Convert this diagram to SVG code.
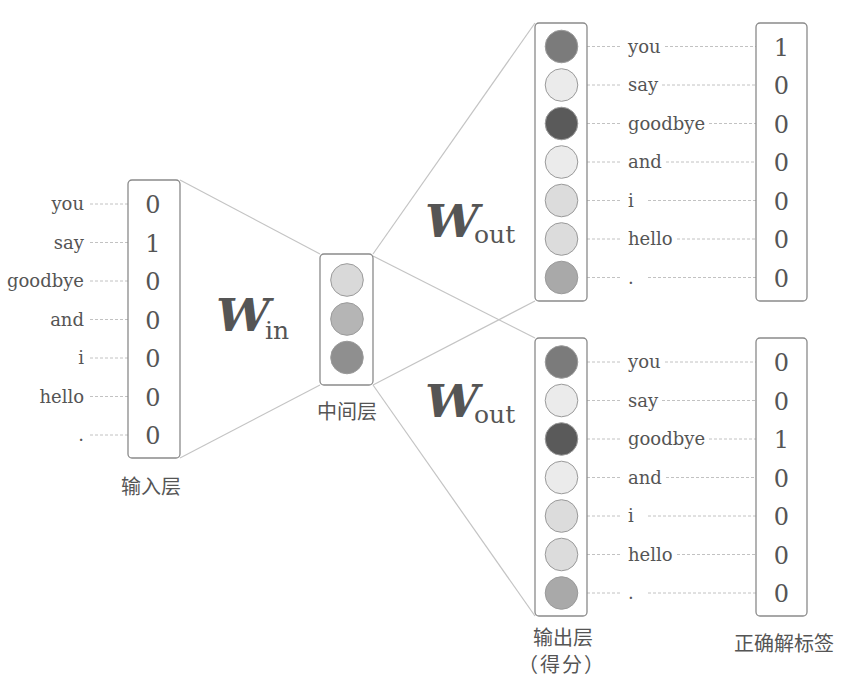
<svg xmlns="http://www.w3.org/2000/svg" width="842" height="685" viewBox="0 0 842 685">
<style>
.box{fill:#fff;stroke:#8a8a8a;stroke-width:1.3}
.c{stroke:#9a9a9a;stroke-width:1}
.conn{stroke:#c4c4c4;stroke-width:1.2;fill:none}
.dash{stroke:#c2c2c2;stroke-width:1;stroke-dasharray:3 2;fill:none}
.w{font-family:"DejaVu Serif",serif;font-size:18px;fill:#555}
.d{font-family:"DejaVu Serif",serif;font-size:24px;fill:#555;text-anchor:middle}
.zh{font-family:"Noto Sans CJK SC",sans-serif;font-size:20px;fill:#555;text-anchor:middle}
.W{font-family:"DejaVu Serif",serif;font-weight:bold;font-style:italic;font-size:44px;fill:#555}
.sub{font-family:"DejaVu Serif",serif;font-size:25px;fill:#555}
.k1{fill:#7b7b7b}.k2{fill:#ebebeb}.k3{fill:#5a5a5a}.k4{fill:#dcdcdc}.k5{fill:#a9a9a9}
</style>
<rect width="842" height="685" fill="#fff"/>
<g id="connectors">
<line class="conn" x1="180" y1="180" x2="320" y2="254"/>
<line class="conn" x1="180" y1="458" x2="320" y2="385"/>
<line class="conn" x1="373" y1="254" x2="535" y2="23"/>
<line class="conn" x1="373" y1="256" x2="535" y2="338"/>
<line class="conn" x1="373" y1="385" x2="535" y2="301"/>
<line class="conn" x1="373" y1="385" x2="535" y2="616"/>
</g>
<g id="input-layer">
<g class="dash">
<line x1="90" y1="204" x2="138" y2="204"/><line x1="90" y1="242.5" x2="138" y2="242.5"/><line x1="90" y1="281" x2="138" y2="281"/><line x1="90" y1="319.5" x2="138" y2="319.5"/><line x1="90" y1="358" x2="138" y2="358"/><line x1="90" y1="396.5" x2="138" y2="396.5"/><line x1="90" y1="435" x2="138" y2="435"/>
</g>
<rect class="box" x="128" y="180" width="52" height="278" rx="4"/>
<g class="w" text-anchor="end">
<text x="84" y="210">you</text><text x="84" y="248.5">say</text><text x="84" y="287">goodbye</text><text x="84" y="325.5">and</text><text x="84" y="364">i</text><text x="84" y="402.5">hello</text><text x="84" y="441">.</text>
</g>
<g>
<text class="d" x="153" y="213">0</text><text class="d" x="153" y="251.5">1</text><text class="d" x="153" y="290">0</text><text class="d" x="153" y="328.5">0</text><text class="d" x="153" y="367">0</text><text class="d" x="153" y="405.5">0</text><text class="d" x="153" y="444">0</text>
</g>
<text class="zh" x="151" y="494">输入层</text>
</g>
<g id="w-in">
<text class="W" x="216" y="331" textLength="54" lengthAdjust="spacingAndGlyphs">W</text>
<text class="sub" x="265" y="339">in</text>
</g>
<g id="hidden-layer">
<rect class="box" x="320" y="254" width="53" height="131" rx="4"/>
<circle class="c" cx="347" cy="280" r="16.3" fill="#d9d9d9"/>
<circle class="c" cx="347" cy="319" r="16.3" fill="#b5b5b5"/>
<circle class="c" cx="347" cy="357.5" r="16.3" fill="#8f8f8f"/>
<text class="zh" x="347" y="419">中间层</text>
</g>
<g id="w-out-1">
<text class="W" x="425" y="237" textLength="54" lengthAdjust="spacingAndGlyphs">W</text>
<text class="sub" x="474" y="243">out</text>
</g>
<g id="w-out-2">
<text class="W" x="425" y="417" textLength="54" lengthAdjust="spacingAndGlyphs">W</text>
<text class="sub" x="474" y="423">out</text>
</g>
<g id="output-top">
<g class="dash">
<line x1="587" y1="46.5" x2="620" y2="46.5"/><line x1="665" y1="46.5" x2="765" y2="46.5"/>
<line x1="587" y1="85" x2="620" y2="85"/><line x1="662" y1="85" x2="765" y2="85"/>
<line x1="587" y1="123.5" x2="620" y2="123.5"/><line x1="709" y1="123.5" x2="765" y2="123.5"/>
<line x1="587" y1="162" x2="620" y2="162"/><line x1="666" y1="162" x2="765" y2="162"/>
<line x1="587" y1="200.5" x2="620" y2="200.5"/><line x1="648" y1="200.5" x2="765" y2="200.5"/>
<line x1="587" y1="239" x2="620" y2="239"/><line x1="677" y1="239" x2="765" y2="239"/>
<line x1="587" y1="277.5" x2="620" y2="277.5"/><line x1="648" y1="277.5" x2="765" y2="277.5"/>
</g>
<rect class="box" x="535" y="23" width="52" height="278" rx="4"/>
<circle class="c k1" cx="561.5" cy="46.5" r="16.3"/>
<circle class="c k2" cx="561.5" cy="85" r="16.3"/>
<circle class="c k3" cx="561.5" cy="123.5" r="16.3"/>
<circle class="c k2" cx="561.5" cy="162" r="16.3"/>
<circle class="c k4" cx="561.5" cy="200.5" r="16.3"/>
<circle class="c k4" cx="561.5" cy="239" r="16.3"/>
<circle class="c k5" cx="561.5" cy="277.5" r="16.3"/>
<g class="w">
<text x="628" y="52.5">you</text><text x="628" y="91">say</text><text x="628" y="129.5">goodbye</text><text x="628" y="168">and</text><text x="628" y="206.5">i</text><text x="628" y="245">hello</text><text x="628" y="283.5">.</text>
</g>
<rect class="box" x="756" y="23" width="51" height="278" rx="4"/>
<text class="d" x="781.5" y="55.5">1</text><text class="d" x="781.5" y="94">0</text><text class="d" x="781.5" y="132.5">0</text><text class="d" x="781.5" y="171">0</text><text class="d" x="781.5" y="209.5">0</text><text class="d" x="781.5" y="248">0</text><text class="d" x="781.5" y="286.5">0</text>
</g>
<g id="output-bottom">
<g class="dash">
<line x1="587" y1="362" x2="620" y2="362"/><line x1="665" y1="362" x2="765" y2="362"/>
<line x1="587" y1="400.5" x2="620" y2="400.5"/><line x1="662" y1="400.5" x2="765" y2="400.5"/>
<line x1="587" y1="439" x2="620" y2="439"/><line x1="709" y1="439" x2="765" y2="439"/>
<line x1="587" y1="477.5" x2="620" y2="477.5"/><line x1="666" y1="477.5" x2="765" y2="477.5"/>
<line x1="587" y1="516" x2="620" y2="516"/><line x1="648" y1="516" x2="765" y2="516"/>
<line x1="587" y1="554.5" x2="620" y2="554.5"/><line x1="677" y1="554.5" x2="765" y2="554.5"/>
<line x1="587" y1="593" x2="620" y2="593"/><line x1="648" y1="593" x2="765" y2="593"/>
</g>
<rect class="box" x="535" y="338" width="52" height="278" rx="4"/>
<circle class="c k1" cx="561.5" cy="362" r="16.3"/>
<circle class="c k2" cx="561.5" cy="400.5" r="16.3"/>
<circle class="c k3" cx="561.5" cy="439" r="16.3"/>
<circle class="c k2" cx="561.5" cy="477.5" r="16.3"/>
<circle class="c k4" cx="561.5" cy="516" r="16.3"/>
<circle class="c k4" cx="561.5" cy="554.5" r="16.3"/>
<circle class="c k5" cx="561.5" cy="593" r="16.3"/>
<g class="w">
<text x="628" y="368">you</text><text x="628" y="406.5">say</text><text x="628" y="445">goodbye</text><text x="628" y="483.5">and</text><text x="628" y="522">i</text><text x="628" y="560.5">hello</text><text x="628" y="599">.</text>
</g>
<rect class="box" x="756" y="338" width="51" height="278" rx="4"/>
<text class="d" x="781.5" y="371">0</text><text class="d" x="781.5" y="409.5">0</text><text class="d" x="781.5" y="448">1</text><text class="d" x="781.5" y="486.5">0</text><text class="d" x="781.5" y="525">0</text><text class="d" x="781.5" y="563.5">0</text><text class="d" x="781.5" y="602">0</text>
<text class="zh" x="563" y="645">输出层</text>
<text class="zh" x="562" y="672" letter-spacing="2">（得分）</text>
<text class="zh" x="784" y="651">正确解标签</text>
</g>
</svg>
